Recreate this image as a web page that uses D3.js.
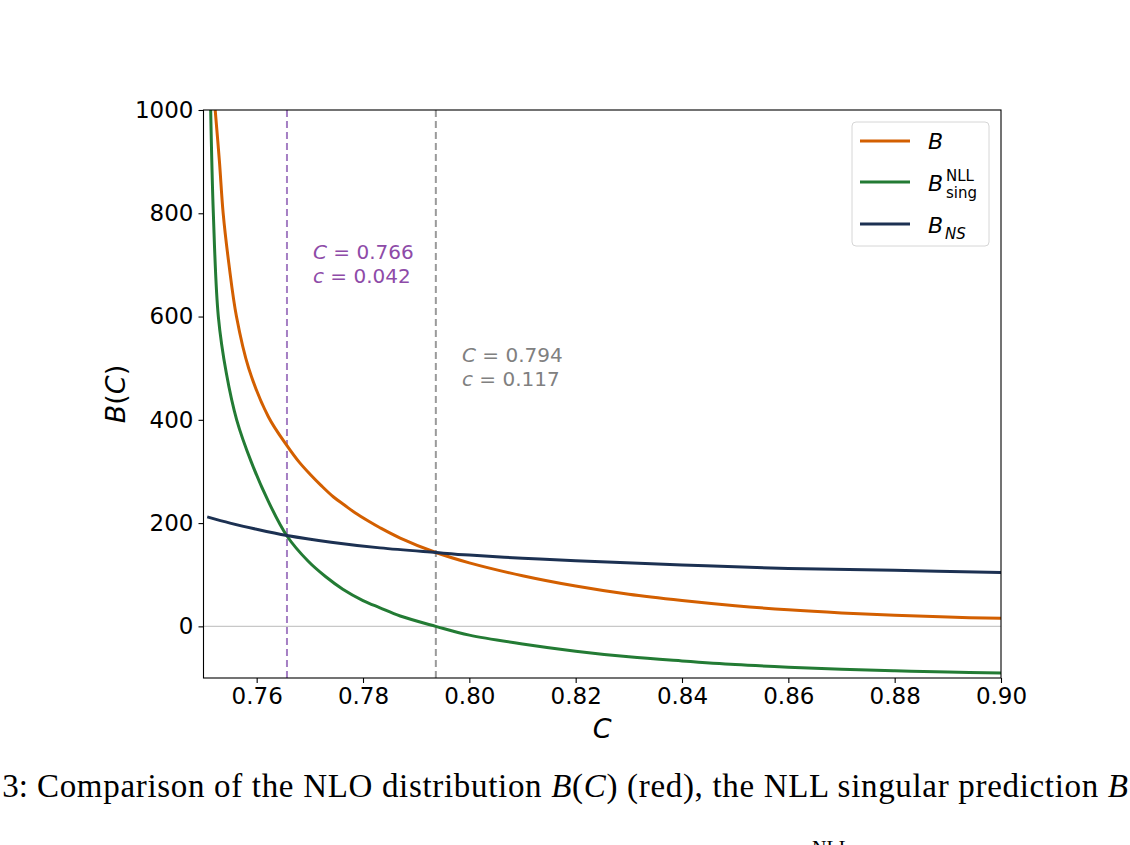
<!DOCTYPE html>
<html><head><meta charset="utf-8">
<script src="https://cdn.jsdelivr.net/npm/d3@7"></script>
<style>body{margin:0;background:#fff}svg{display:block}</style>
</head><body>
<svg id="c" width="1130" height="845"></svg>
<script>
// ---- data ----
const cB   = [0.7522, 0.7530, 0.7537, 0.7548, 0.7562, 0.7585, 0.7622, 0.7657, 0.7680, 0.7700, 0.7722, 0.7744, 0.7765, 0.7785, 0.7810, 0.7832, 0.7870, 0.7937, 0.8000, 0.8100, 0.8200, 0.8300, 0.8400, 0.8500, 0.8600, 0.8700, 0.8800, 0.8900, 0.9000];
const vB   = [1000,   900,    800,    700,    600,    500,    406,    350,    318,    295,    272,    251,    235,    220,    204,    191,    171,    143,    123,    98,     78,     62,     50,     40,     32,     26,     21.5,   18,     15.5];
const cSing = [0.75135, 0.75185, 0.75279, 0.7543, 0.75624, 0.7590, 0.7622, 0.7657, 0.7697, 0.7730, 0.7762, 0.7800, 0.7832, 0.7870, 0.7937, 0.8000, 0.8100, 0.8200, 0.8300, 0.8400, 0.8500, 0.8600, 0.8700, 0.8800, 0.8900, 0.9000];
const vSing = [1000,    800,     600,     490,    400,     318,    242,    175,    126,    96,     72,     50,     36,     20,     0,      -17,    -34,    -48,    -59,    -67,    -74,    -79,    -83,    -86,    -88.5,  -90.5];
const cNS  = [0.7507, 0.7550, 0.7600, 0.7657, 0.7740, 0.7832, 0.7937, 0.8000, 0.8100, 0.8200, 0.8400, 0.8600, 0.8800, 0.9000];
const vNS  = [212,    200,    188,    176,    163,    152,    143,    138,    132,    127,    119,    112,    108.5,  104.5];
const xTicks = [0.76, 0.78, 0.80, 0.82, 0.84, 0.86, 0.88, 0.90];
const yTicks = [0, 200, 400, 600, 800, 1000];
const vlines = [
  {c: 0.7657, color: "#a57fc4", text: "#8e4ba8", l1: "0.766", l2: "0.042"},
  {c: 0.7937, color: "#9a9a9a", text: "#808080", l1: "0.794", l2: "0.117"}
];
const series = [
  {name: "B", c: cB, v: vB, color: "#d35f00"},
  {name: "sing", c: cSing, v: vSing, color: "#237b34"},
  {name: "NS", c: cNS, v: vNS, color: "#1c3152"}
];

const svg = d3.select("#c");
const L = 203.5, R = 1001, T = 110, Bt = 678;
const x = d3.scaleLinear().domain([0.75, 0.90]).range([L, R]);
const y = d3.scaleLinear().domain([-100, 1000]).range([Bt, T]);
const font = "DejaVu Sans, sans-serif";

svg.append("defs").append("clipPath").attr("id","clip")
  .append("rect").attr("x", L).attr("y", T).attr("width", R-L).attr("height", Bt-T);

// zero line
svg.append("line").attr("x1", L).attr("x2", R).attr("y1", y(0)).attr("y2", y(0))
  .attr("stroke", "#c8c8c8").attr("stroke-width", 1.2);

// vertical lines
vlines.forEach(d => {
  svg.append("line").attr("x1", x(d.c)).attr("x2", x(d.c)).attr("y1", T).attr("y2", Bt)
    .attr("stroke", d.color).attr("stroke-width", 2).attr("stroke-dasharray", "7,4");
});

// curves
const g = svg.append("g").attr("clip-path", "url(#clip)");
series.forEach(s => {
  const pts = s.c.map((c, i) => [c, s.v[i]]);
  g.append("path").datum(pts)
    .attr("d", d3.line().x(d => x(d[0])).y(d => y(d[1])).curve(d3.curveCatmullRom.alpha(0.5)))
    .attr("fill", "none").attr("stroke", s.color).attr("stroke-width", 3);
});

// spines
svg.append("rect").attr("x", L).attr("y", T).attr("width", R-L).attr("height", Bt-T)
  .attr("fill", "none").attr("stroke", "#000").attr("stroke-width", 1.1);

// axes
const xa = svg.append("g").attr("transform", `translate(0,${Bt})`)
  .call(d3.axisBottom(x).tickValues(xTicks).tickFormat(d3.format(".2f")).tickSize(5).tickPadding(5));
const ya = svg.append("g").attr("transform", `translate(${L},0)`)
  .call(d3.axisLeft(y).tickValues(yTicks).tickFormat(d3.format("d")).tickSize(5).tickPadding(5));
[xa, ya].forEach(a => {
  a.select(".domain").remove();
  a.selectAll("text").attr("font-family", font).attr("font-size", 23).attr("fill", "#000");
  a.selectAll("line").attr("stroke", "#000").attr("stroke-width", 1.1);
});

// axis labels
svg.append("text").attr("x", (L+R)/2).attr("y", 738).attr("text-anchor", "middle")
  .attr("font-family", font).attr("font-size", 27).attr("font-style", "italic").text("C");
const yl = svg.append("text").attr("transform", `translate(125,${(T+Bt)/2}) rotate(-90)`)
  .attr("text-anchor", "middle").attr("font-family", font).attr("font-size", 27);
yl.append("tspan").attr("font-style", "italic").text("B");
yl.append("tspan").text("(");
yl.append("tspan").attr("font-style", "italic").text("C");
yl.append("tspan").text(")");

// annotations
function annot(xp, yp, col, l1, l2) {
  const t1 = svg.append("text").attr("x", xp).attr("y", yp).attr("font-family", font).attr("font-size", 20).attr("fill", col);
  t1.append("tspan").attr("font-style", "italic").text("C");
  t1.append("tspan").text(" = " + l1);
  const t2 = svg.append("text").attr("x", xp).attr("y", yp + 24).attr("font-family", font).attr("font-size", 20).attr("fill", col);
  t2.append("tspan").attr("font-style", "italic").text("c");
  t2.append("tspan").text(" = " + l2);
}
annot(313, 259, vlines[0].text, vlines[0].l1, vlines[0].l2);
annot(462, 362, vlines[1].text, vlines[1].l1, vlines[1].l2);

// legend
const lg = svg.append("g");
lg.append("rect").attr("x", 852).attr("y", 122).attr("width", 137).attr("height", 124).attr("rx", 4)
  .attr("fill", "#fff").attr("fill-opacity", 0.8).attr("stroke", "#d6d6d6").attr("stroke-width", 1);
const rows = [141, 182, 224];
series.forEach((s, i) => {
  lg.append("line").attr("x1", 860).attr("x2", 910).attr("y1", rows[i]).attr("y2", rows[i])
    .attr("stroke", s.color).attr("stroke-width", 3);
});
lg.append("text").attr("x", 928).attr("y", 149).attr("font-family", font).attr("font-size", 22)
  .attr("font-style", "italic").text("B");
lg.append("text").attr("x", 928).attr("y", 191).attr("font-family", font).attr("font-size", 22)
  .attr("font-style", "italic").text("B");
lg.append("text").attr("x", 946).attr("y", 181).attr("font-family", font).attr("font-size", 15).text("NLL");
lg.append("text").attr("x", 946).attr("y", 198).attr("font-family", font).attr("font-size", 15).text("sing");
lg.append("text").attr("x", 928).attr("y", 233).attr("font-family", font).attr("font-size", 22)
  .attr("font-style", "italic").text("B");
lg.append("text").attr("x", 945).attr("y", 239).attr("font-family", font).attr("font-size", 15)
  .attr("font-style", "italic").text("NS");

// caption
const serif = "Liberation Serif, DejaVu Serif, serif";
svg.append("text").attr("x", 28).attr("y", 797).attr("text-anchor", "end").attr("font-family", serif)
  .attr("font-size", 33).text("3:");
const cap = svg.append("text").attr("x", 37).attr("y", 797).attr("font-family", serif).attr("font-size", 33)
  .attr("textLength", 1091).attr("lengthAdjust", "spacing");
cap.append("tspan").text("Comparison of the NLO distribution ");
cap.append("tspan").attr("font-style", "italic").text("B");
cap.append("tspan").text("(");
cap.append("tspan").attr("font-style", "italic").text("C");
cap.append("tspan").text(") (red), the NLL singular prediction ");
cap.append("tspan").attr("font-style", "italic").text("B");
svg.append("text").attr("x", 812).attr("y", 855).attr("font-family", serif).attr("font-size", 20).text("NLL");
</script>
</body></html>
